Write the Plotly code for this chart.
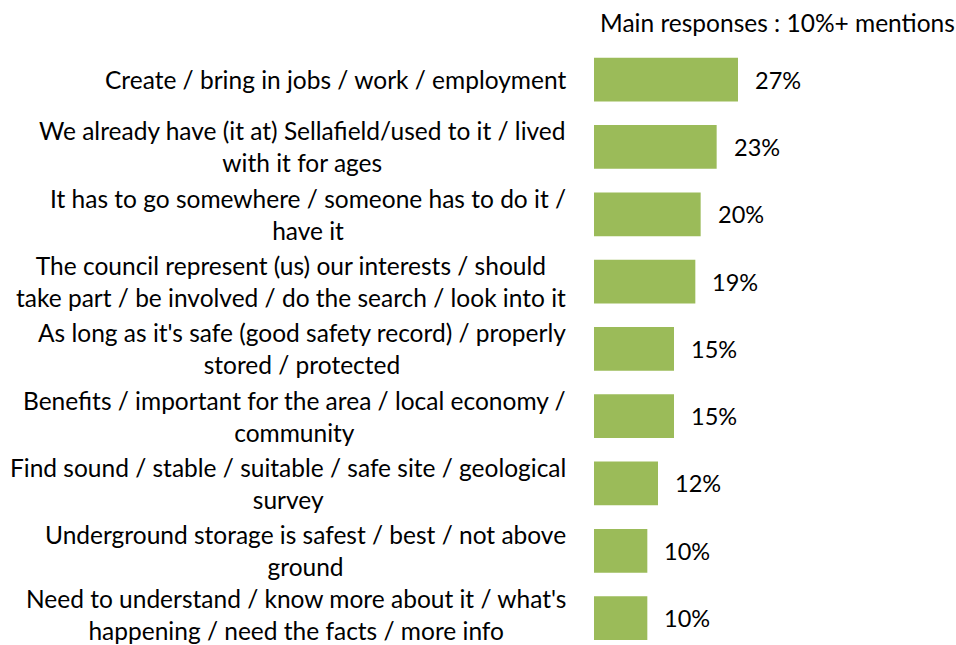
import plotly.graph_objects as go

# Survey responses (share of mentions, %)
categories = [
    "Create / bring in jobs / work / employment",
    "We already have (it at) Sellafield/used to it / lived<br>with it for ages",
    "It has to go somewhere / someone has to do it /<br>have it",
    "The council represent (us) our interests / should<br>take part / be involved / do the search / look into it",
    "As long as it's safe (good safety record) / properly<br>stored / protected",
    "Benefits / important for the area / local economy /<br>community",
    "Find sound / stable / suitable / safe site / geological<br>survey",
    "Underground storage is safest / best / not above<br>ground",
    "Need to understand / know more about it / what's<br>happening / need the facts / more info",
]
values = [27, 23, 20, 19, 15, 15, 12, 10, 10]
title_text = "Main responses : 10%+ mentions"

FONT = "Lato"
FONT_SIZE = 24.5
BAR_COLOR = "#9BBB59"
W, H = 956, 645
LEFT = 594
PX_PER_UNIT = 5.333

idx = list(range(len(categories)))

fig = go.Figure(
    go.Bar(
        x=values,
        y=idx,
        orientation="h",
        marker=dict(color=BAR_COLOR, line=dict(width=0)),
        width=0.65,
        hoverinfo="skip",
    )
)

annotations = []
last = len(categories) - 1
for i, (cat, v) in enumerate(zip(categories, values)):
    annotations.append(dict(
        x=0, xref="paper", y=i, yref="y",
        text=cat, showarrow=False, xanchor="right", yanchor="middle",
        align="center", xshift=-26,
        # keep the bottom label's second line inside the canvas
        yshift=4 if i == last else 0,
        font=dict(family=FONT, size=FONT_SIZE, color="#000000"),
    ))
    annotations.append(dict(
        x=v, xref="x", y=i, yref="y",
        text=f"{v}%", showarrow=False, xanchor="left", yanchor="middle",
        xshift=15,
        font=dict(family=FONT, size=23.5, color="#000000"),
    ))

annotations.append(dict(
    x=1, xref="paper", y=1, yref="paper", text=title_text,
    showarrow=False, xanchor="right", yanchor="bottom", yshift=7, xshift=1,
    font=dict(family=FONT, size=FONT_SIZE, color="#000000"),
))

fig.update_layout(
    width=W, height=H,
    margin=dict(l=LEFT, r=0, t=46, b=0),
    paper_bgcolor="white", plot_bgcolor="white",
    showlegend=False,
    xaxis=dict(range=[0, (W - LEFT) / PX_PER_UNIT], visible=False, fixedrange=True),
    yaxis=dict(range=[8.40, -0.5], visible=False, fixedrange=True),
    annotations=annotations,
)

fig.write_html("out.html")
